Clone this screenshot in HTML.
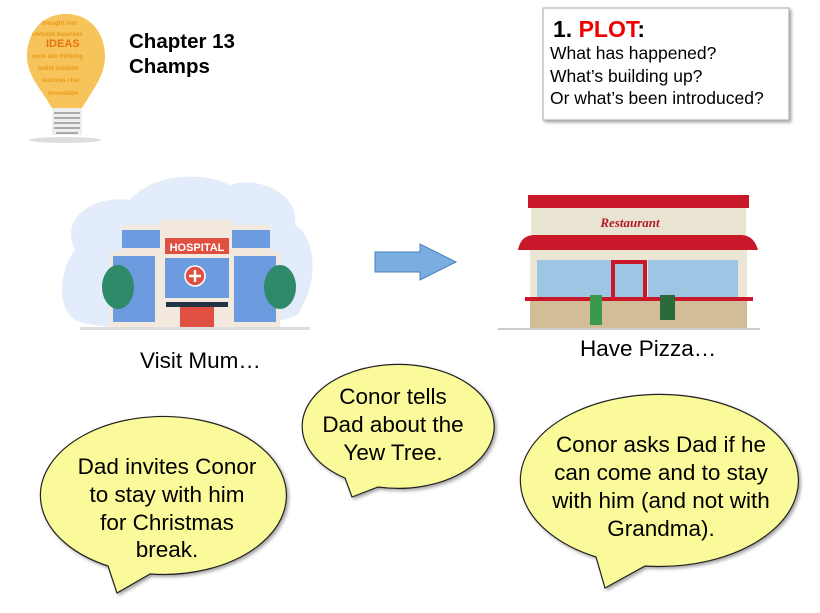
<!DOCTYPE html>
<html><head><meta charset="utf-8"><style>
html,body{margin:0;padding:0;background:#fff;width:820px;height:613px;overflow:hidden}
svg{display:block;font-family:"Liberation Sans",Arial,sans-serif}
</style></head><body>
<svg width="820" height="613" viewBox="0 0 820 613" xmlns="http://www.w3.org/2000/svg">
<defs>
<filter id="sh" x="-10%" y="-10%" width="130%" height="130%"><feDropShadow dx="2" dy="2" stdDeviation="1.5" flood-color="#000" flood-opacity="0.35"/></filter>
</defs>
<!-- bulb -->
<ellipse cx="65" cy="140" rx="36" ry="3" fill="#ddd"/>
<path d="M66,14 C40,14 27,35 27,56 C27,75 40,88 47,100 L52,108 L82,108 L87,100 C94,88 105,75 105,56 C105,35 92,14 66,14Z" fill="#f6c45a"/>
<g font-size="6" fill="#e89a1a" font-weight="bold">
<text x="42" y="25">thought hint</text><text x="32" y="36">concept business</text>
<text x="46" y="47" font-size="11" fill="#e8730c">IDEAS</text><text x="32" y="58">work aim thinking</text>
<text x="38" y="70">belief solution</text><text x="42" y="82">success clue</text><text x="48" y="95">innovation</text>
</g>
<rect x="52" y="108" width="30" height="27" fill="#eee"/>
<g stroke="#666" stroke-width="1"><line x1="54" y1="113" x2="80" y2="113"/><line x1="54" y1="118" x2="80" y2="118"/><line x1="54" y1="123" x2="80" y2="123"/><line x1="54" y1="128" x2="80" y2="128"/><line x1="56" y1="133" x2="78" y2="133"/></g>
<text x="129" y="48" font-size="20.5" font-weight="bold">Chapter 13</text>
<text x="129" y="73" font-size="20.5" font-weight="bold">Champs</text>
<!-- plot box -->
<rect x="543" y="8" width="246" height="112" fill="#fff" stroke="#aaa" filter="url(#sh)"/>
<text x="553" y="37" font-size="23" font-weight="bold">1. <tspan fill="#e00">PLOT</tspan>:</text>
<text x="550" y="59" font-size="17.5">What has happened?</text>
<text x="550" y="82" font-size="17.5">What’s building up?</text>
<text x="550" y="104" font-size="17.5">Or what’s been introduced?</text>
<!-- hospital -->
<path d="M75,250 C60,220 90,195 130,200 C150,175 200,170 230,185 C260,175 300,195 295,225 C320,240 315,290 300,310 C305,330 100,335 75,320 C55,305 60,270 75,250Z" fill="#e3ecfa"/>
<rect x="122" y="225" width="60" height="30" fill="#f3e9df"/>
<rect x="220" y="225" width="50" height="30" fill="#f3e9df"/>
<rect x="122" y="230" width="45" height="18" fill="#6d9be0"/>
<rect x="230" y="230" width="40" height="18" fill="#6d9be0"/>
<rect x="110" y="252" width="170" height="75" fill="#f3e9df"/>
<rect x="113" y="256" width="42" height="66" fill="#6d9be0"/>
<rect x="234" y="256" width="42" height="66" fill="#6d9be0"/>
<rect x="160" y="220" width="72" height="107" fill="#f3e9df"/>
<rect x="165" y="238" width="64" height="16" fill="#e05040"/>
<text x="197" y="251" font-size="11" font-weight="bold" fill="#fff" text-anchor="middle">HOSPITAL</text>
<rect x="165" y="258" width="64" height="40" fill="#6d9be0"/>
<circle cx="195" cy="276" r="10" fill="#e05040" stroke="#fff" stroke-width="1.5"/>
<path d="M195,270v12M189,276h12" stroke="#fff" stroke-width="2.5"/>
<rect x="166" y="302" width="62" height="5" fill="#234"/>
<rect x="180" y="307" width="34" height="20" fill="#e05040"/>
<ellipse cx="118" cy="287" rx="16" ry="22" fill="#2f8a6a"/>
<ellipse cx="280" cy="287" rx="16" ry="22" fill="#2f8a6a"/>
<rect x="80" y="327" width="230" height="3" fill="#ddd"/>
<!-- arrow -->
<path d="M375,252 H420 V244 L456,262 L420,280 V272 H375Z" fill="#7aaee0" stroke="#4a7ebb" stroke-width="1"/>
<text x="140" y="368" font-size="22.5">Visit Mum…</text>
<!-- restaurant -->
<rect x="528" y="195" width="221" height="13" fill="#c8182a"/>
<rect x="531" y="208" width="215" height="28" fill="#e9e4d2"/>
<text x="630" y="227" font-size="13" font-style="italic" font-weight="bold" fill="#b01828" text-anchor="middle" font-family="Liberation Serif,serif">Restaurant</text>
<path d="M518,250 C520,240 525,235 535,235 H740 C750,235 755,240 758,250Z" fill="#c8182a"/>
<rect x="530" y="250" width="217" height="78" fill="#ebe5d4"/>
<rect x="537" y="260" width="90" height="37" fill="#9cc6e4"/>
<rect x="648" y="260" width="90" height="37" fill="#9cc6e4"/>
<rect x="611" y="260" width="36" height="68" fill="#c8182a"/>
<rect x="615" y="264" width="28" height="62" fill="#9cc6e4"/>
<rect x="525" y="297" width="228" height="4" fill="#c8182a"/>
<rect x="530" y="301" width="217" height="27" fill="#d3bd98"/>
<rect x="660" y="295" width="15" height="25" fill="#2a6a3a"/>
<rect x="590" y="295" width="12" height="30" fill="#3a9a4a"/>
<rect x="498" y="328" width="262" height="2" fill="#ccc"/>
<text x="580" y="356" font-size="22.5">Have Pizza…</text>
<!-- bubbles -->
<g fill="#fafa9a" stroke="#222" stroke-width="1.2" filter="url(#sh)">
<path d="M345,478 A96,62 0 1 1 378,487 L352,497Z"/>
<path d="M108,566 A123,79 0 1 1 150,574 L117,593Z"/>
<path d="M596,557 A139,86 0 1 1 645,566 L605,588Z"/>
</g>
<g font-size="22.5" text-anchor="middle">
<text x="393" y="404">Conor tells</text><text x="393" y="432">Dad about the</text><text x="393" y="460">Yew Tree.</text>
<text x="167" y="474">Dad invites Conor</text><text x="167" y="502">to stay with him</text><text x="167" y="530">for Christmas</text><text x="167" y="557">break.</text>
<text x="661" y="452">Conor asks Dad if he</text><text x="661" y="480">can come and to stay</text><text x="661" y="508">with him (and not with</text><text x="661" y="536">Grandma).</text>
</g>
</svg>
</body></html>
